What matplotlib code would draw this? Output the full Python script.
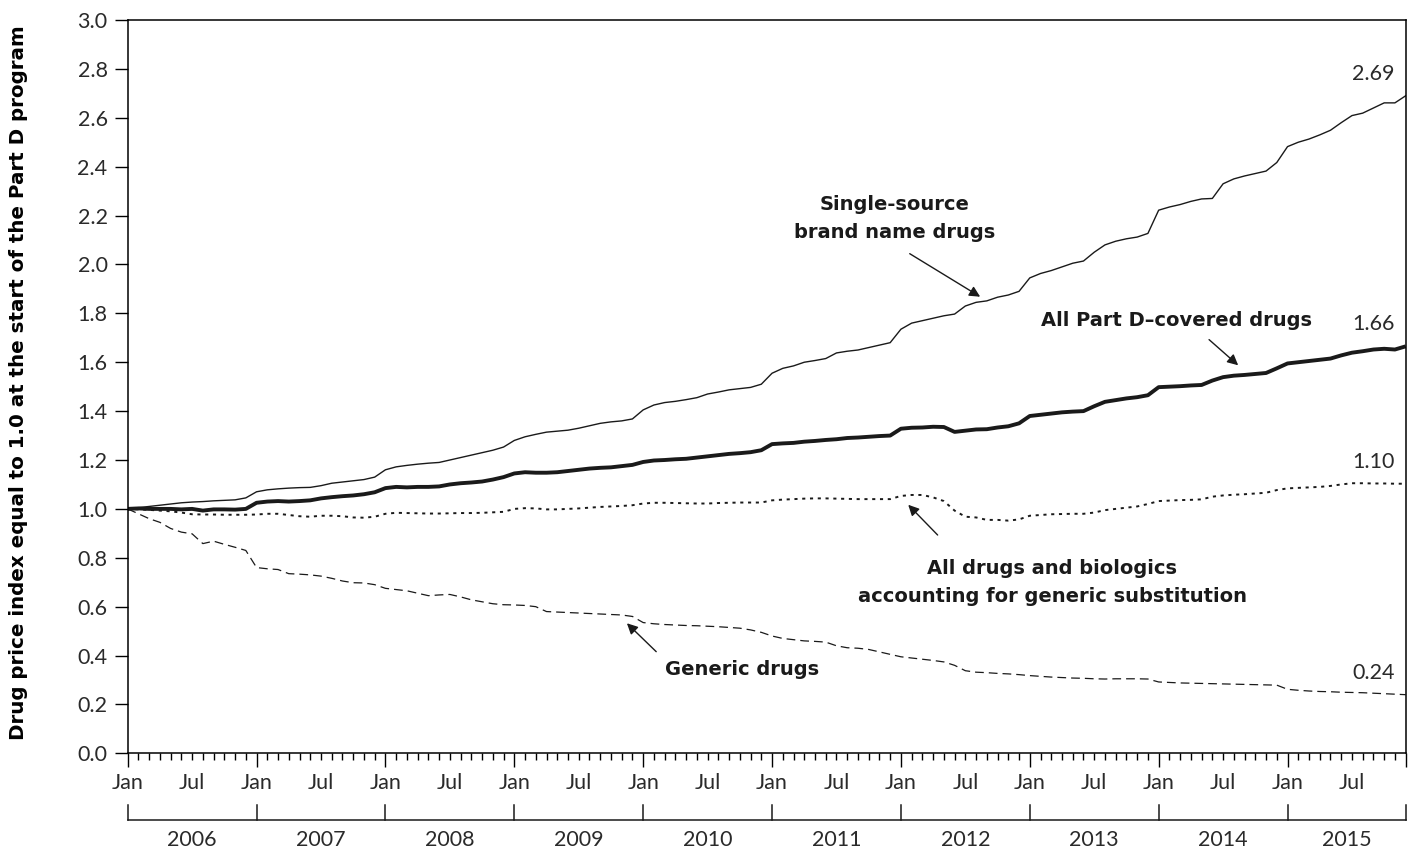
import numpy as np
import matplotlib
matplotlib.use('Agg')
import matplotlib.pyplot as plt
import matplotlib.transforms as mtransforms


# monthly index values, Jan 2006 .. Dec 2015
brand = [1.000, 1.005, 1.010, 1.015, 1.020, 1.025, 1.028, 1.030, 1.033, 1.035, 1.037, 1.045,
         1.070, 1.078, 1.082, 1.085, 1.087, 1.088, 1.095, 1.105, 1.110, 1.115, 1.120, 1.130,
         1.160, 1.172, 1.178, 1.183, 1.187, 1.190, 1.200, 1.210, 1.220, 1.230, 1.240, 1.253,
         1.280, 1.295, 1.305, 1.314, 1.318, 1.322, 1.330, 1.340, 1.350, 1.356, 1.360, 1.368,
         1.405, 1.425, 1.435, 1.440, 1.447, 1.455, 1.470, 1.478, 1.487, 1.492, 1.497, 1.510,
         1.555, 1.575, 1.585, 1.600, 1.607, 1.615, 1.638, 1.645, 1.650, 1.660, 1.670, 1.680,
         1.735, 1.760, 1.770, 1.780, 1.790, 1.797, 1.830, 1.845, 1.851, 1.866, 1.875, 1.890,
         1.945, 1.963, 1.975, 1.990, 2.005, 2.014, 2.050, 2.080, 2.095, 2.105, 2.112, 2.127,
         2.222, 2.235, 2.245, 2.258, 2.268, 2.270, 2.330, 2.350, 2.362, 2.372, 2.382, 2.417,
         2.482, 2.500, 2.513, 2.530, 2.549, 2.580, 2.609, 2.619, 2.640, 2.661, 2.661, 2.690]

part_d = [1.000, 1.002, 1.000, 1.000, 1.000, 0.998, 1.000, 0.993, 0.998, 0.998, 0.997, 1.000,
          1.025, 1.030, 1.032, 1.030, 1.032, 1.035, 1.043, 1.048, 1.052, 1.055, 1.060, 1.068,
          1.085, 1.090, 1.088, 1.090, 1.090, 1.092, 1.100, 1.105, 1.108, 1.112, 1.120, 1.130,
          1.145, 1.150, 1.148, 1.148, 1.150, 1.155, 1.160, 1.165, 1.168, 1.170, 1.175, 1.180,
          1.192, 1.198, 1.200, 1.203, 1.205, 1.210, 1.215, 1.220, 1.225, 1.228, 1.232, 1.240,
          1.265, 1.268, 1.270, 1.275, 1.278, 1.282, 1.285, 1.290, 1.292, 1.295, 1.298, 1.300,
          1.328, 1.332, 1.333, 1.336, 1.335, 1.315, 1.320, 1.325, 1.326, 1.333, 1.338, 1.350,
          1.380, 1.385, 1.390, 1.395, 1.398, 1.400, 1.420, 1.438, 1.445, 1.452, 1.457, 1.465,
          1.498, 1.500, 1.502, 1.505, 1.507, 1.525, 1.539, 1.545, 1.548, 1.552, 1.556, 1.575,
          1.595, 1.600, 1.605, 1.610, 1.615, 1.628, 1.639, 1.645, 1.652, 1.655, 1.652, 1.665]

all_drugs = [1.000, 0.998, 0.996, 0.993, 0.990, 0.985, 0.978, 0.977, 0.977, 0.976, 0.976, 0.976,
             0.977, 0.980, 0.980, 0.975, 0.970, 0.968, 0.972, 0.972, 0.970, 0.965, 0.964, 0.968,
             0.980, 0.984, 0.983, 0.982, 0.981, 0.981, 0.982, 0.983, 0.983, 0.984, 0.986, 0.988,
             1.000, 1.003, 1.002, 0.998, 0.998, 1.000, 1.002, 1.005, 1.008, 1.010, 1.012, 1.015,
             1.022, 1.025, 1.025, 1.024, 1.023, 1.022, 1.022, 1.024, 1.025, 1.026, 1.026, 1.026,
             1.035, 1.038, 1.040, 1.042, 1.043, 1.043, 1.042, 1.041, 1.040, 1.040, 1.040, 1.040,
             1.053, 1.057, 1.057, 1.047, 1.032, 0.993, 0.968, 0.965, 0.955, 0.955, 0.952, 0.957,
             0.972, 0.975, 0.978, 0.979, 0.980, 0.980, 0.985, 0.995, 1.000, 1.005, 1.010, 1.020,
             1.032, 1.034, 1.036, 1.037, 1.039, 1.050, 1.055, 1.058, 1.060, 1.063, 1.066, 1.077,
             1.084, 1.086, 1.088, 1.090, 1.094, 1.100, 1.105, 1.105, 1.104, 1.104, 1.103, 1.103]

generic = [1.000, 0.980, 0.960, 0.945, 0.920, 0.905, 0.898, 0.858, 0.868, 0.855, 0.843, 0.830,
           0.760, 0.755, 0.752, 0.735, 0.733, 0.730, 0.725, 0.716, 0.705, 0.698, 0.697, 0.690,
           0.675, 0.670, 0.665, 0.655, 0.645, 0.648, 0.650, 0.640, 0.628, 0.620, 0.612, 0.608,
           0.607, 0.605, 0.600, 0.580, 0.578, 0.576, 0.574, 0.572, 0.570, 0.568, 0.566, 0.560,
           0.535, 0.530, 0.527, 0.525, 0.523, 0.522, 0.520, 0.518, 0.515, 0.512, 0.505, 0.495,
           0.480, 0.470, 0.465, 0.460, 0.458, 0.455, 0.440, 0.432, 0.430, 0.425, 0.415, 0.405,
           0.395, 0.390, 0.385, 0.380, 0.374, 0.360, 0.338, 0.332, 0.330, 0.327, 0.325, 0.322,
           0.318, 0.315, 0.312, 0.310, 0.308, 0.307, 0.305, 0.304, 0.305, 0.305, 0.305, 0.304,
           0.292, 0.290, 0.288, 0.287, 0.286, 0.285, 0.284, 0.283, 0.282, 0.281, 0.280, 0.279,
           0.262, 0.258, 0.255, 0.253, 0.252, 0.250, 0.249, 0.248, 0.246, 0.244, 0.242, 0.240]

years = ['2006', '2007', '2008', '2009', '2010', '2011', '2012', '2013', '2014', '2015']
end_labels = ['2.69', '1.66', '1.10', '0.24']

light = ['Lato', 'DejaVu Sans']
bold = ['DejaVu Sans']
ink = '#1a1a1a'
num_color = '#2a2a2a'

months = np.arange(len(brand))

fig = plt.figure(figsize=(14.14, 8.55), dpi=100)
ax = fig.add_axes([0.0903, 0.1189, 0.9038, 0.8577])

ax.plot(months, brand, color=ink, lw=1.0)
ax.plot(months, part_d, color=ink, lw=2.8, solid_capstyle='butt')
ax.plot(months, all_drugs, color=ink, lw=1.4, linestyle=(0, (1.6, 2.4)))
ax.plot(months, generic, color=ink, lw=0.9, linestyle=(0, (7, 4)))

ax.set_xlim(0, 119)
ax.set_ylim(0, 3.0)

yt = np.arange(0, 3.01, 0.2)
ax.set_yticks(yt)
ax.set_yticklabels(['%.1f' % v for v in yt], fontsize=15.5, family=light, color=num_color)
ax.tick_params(axis='y', length=9.5, width=1, pad=5)

xt = list(range(0, 120, 6)) + [119]
xl = ['Jan' if m % 12 == 0 else 'Jul' for m in range(0, 120, 6)] + ['']
ax.set_xticks(xt)
ax.set_xticklabels(xl, fontsize=15.5, family=light, color=num_color)
ax.set_xticks(range(120), minor=True)
ax.tick_params(axis='x', which='major', length=10, width=1, pad=4)
ax.tick_params(axis='x', which='minor', length=5, width=1)
for t, m in zip(ax.xaxis.get_major_ticks(), xt):
    if m % 12 == 6:
        t.tick1line.set_markersize(5)

for s in ax.spines.values():
    s.set_linewidth(1.1)

ax.set_ylabel('Drug price index equal to 1.0 at the start of the Part D program',
              family=bold, fontweight='bold', fontsize=14.3)
ax.yaxis.set_label_coords(-0.078, 0.505)

# year bracket under the month labels
trans = mtransforms.blended_transform_factory(ax.transData, ax.transAxes)
ax.plot([0, 119], [-0.091, -0.091], color=ink, lw=1.1, transform=trans, clip_on=False)
bounds = list(range(0, 120, 12)) + [119]
for b in bounds:
    ax.plot([b, b], [-0.091, -0.071], color=ink, lw=1.1, transform=trans, clip_on=False)
for i, yr in enumerate(years):
    ax.text((bounds[i] + bounds[i + 1]) / 2, -0.1175, yr, transform=trans, ha='center', va='center',
            fontsize=15.5, family=light, color=num_color)

# end values
for lab, v in zip(end_labels, [brand[-1], part_d[-1], all_drugs[-1], generic[-1]]):
    ax.text(118, v + 0.09, lab, ha='right', va='center', fontsize=15.5, family=light, color=num_color)

# series annotations
akw = dict(arrowstyle='-|>', color=ink, lw=1.0, mutation_scale=16)
tkw = dict(ha='center', va='center', fontsize=14, family=bold, fontweight='bold', color=ink,
           linespacing=1.6)
ax.text(71.4, 2.19, 'Single-source\nbrand name drugs', **tkw)
ax.annotate('', xy=(79.6, 1.862), xytext=(72.6, 2.05), arrowprops=akw)
ax.text(97.7, 1.77, 'All Part D\u2013covered drugs', **tkw)
ax.annotate('', xy=(103.6, 1.58), xytext=(100.5, 1.70), arrowprops=akw)
ax.text(86.1, 0.70, 'All drugs and biologics\naccounting for generic substitution', **tkw)
ax.annotate('', xy=(72.5, 1.025), xytext=(75.6, 0.885), arrowprops=akw)
ax.text(57.2, 0.345, 'Generic drugs', **tkw)
ax.annotate('', xy=(46.3, 0.54), xytext=(49.4, 0.408), arrowprops=akw)

fig.savefig('out.png', dpi=100)
